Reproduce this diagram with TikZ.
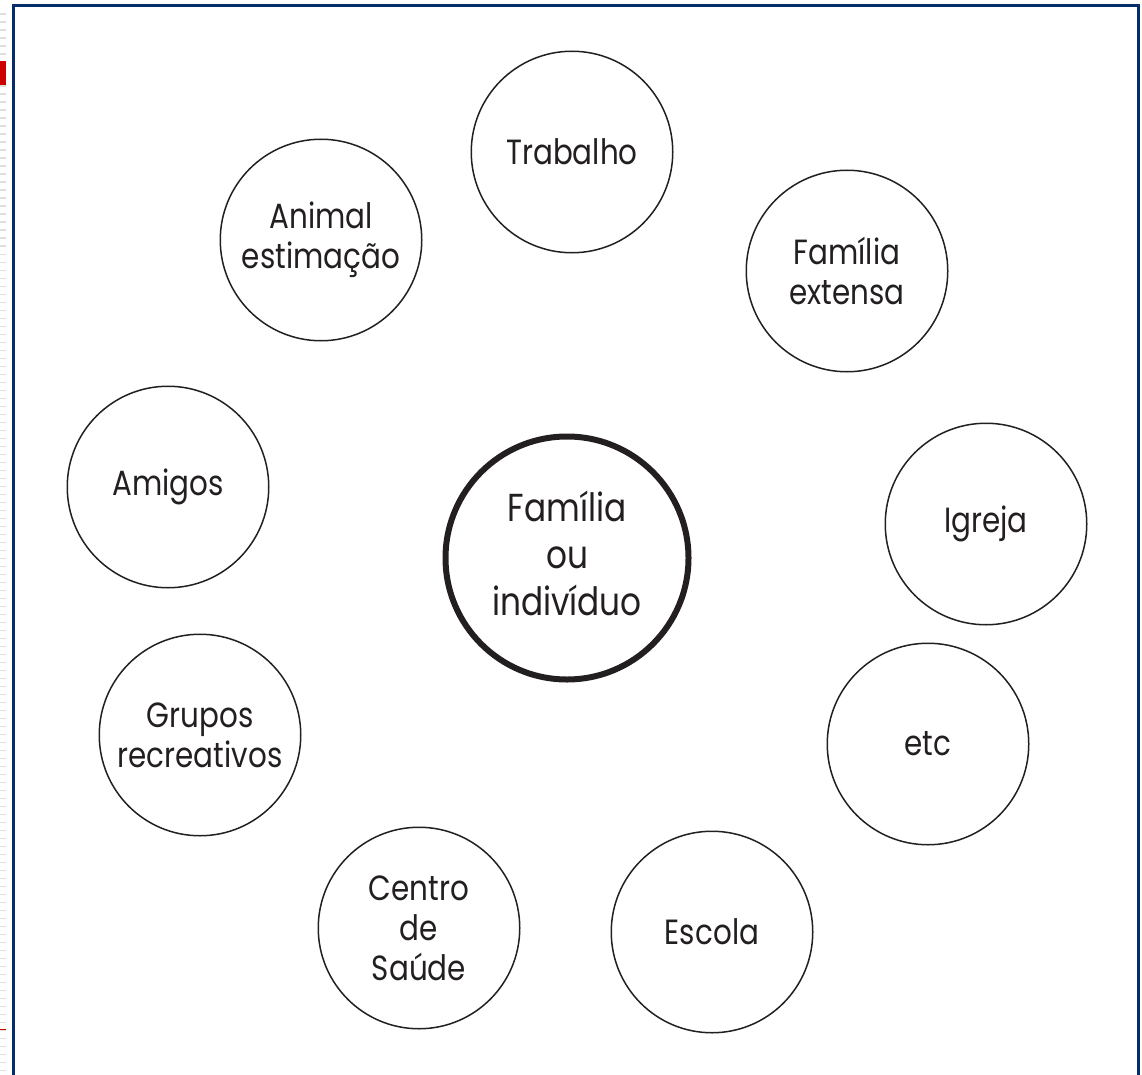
\documentclass[tikz,border=0pt]{standalone}
\usepackage{fontspec}
\newfontfamily\diagfont{Poppins}[FakeStretch=0.84]
\definecolor{navy}{RGB}{6,45,105}
\definecolor{ink}{RGB}{35,31,32}
\definecolor{tickgray}{RGB}{222,222,222}
\definecolor{marker}{RGB}{204,0,0}
\begin{document}
\begin{tikzpicture}[x=1pt,y=-1pt,
  small/.style={circle,draw=ink,line width=1.5pt,minimum size=201.5pt,inner sep=0pt,align=center,text=ink,font=\diagfont\fontsize{35}{40}\selectfont},
  big/.style={circle,draw=ink,line width=6pt,minimum size=243pt,inner sep=0pt},
  bigtext/.style={align=center,text=ink,inner sep=0pt,font=\diagfont\fontsize{39}{47}\selectfont}]
\useasboundingbox (0,0) rectangle (1142,1075);
\fill[white] (0,0) rectangle (1142,1075);
% left page edge ticks
\foreach \i in {0,...,132}{
  \pgfmathsetmacro\yy{13.5+8*\i}
  \fill[tickgray] (0,\yy) rectangle (6,\yy+1.4);
}
\fill[marker] (0,61) rectangle (6,85);
\fill[marker] (0,1028.5) rectangle (6,1029.7);
% frame
\draw[navy,line width=3pt] (13,1075) -- (13,5.5) -- (1138.5,5.5) -- (1138.5,1075);
% circles
\node[big] (fam) at (567,558) {};
\node[bigtext] (famtext) at (567,553) {Família\\ou\\indivíduo};
\node[small] (trab) at (572,152) {Trabalho};
\node[small] (anim) at (321,240) {Animal\\estimação};
\node[small] (ext) at (847,271) {Família\\extensa};
\node[small] (amig) at (168,487) {Amigos};
\node[small] (igre) at (986,524) {Igreja};
\node[small] (grup) at (200,735) {Grupos\\recreativos};
\node[small] (etc) at (928,744) {etc};
\node[small] (cent) at (419,928) {Centro\\de\\Saúde};
\node[small] (esc) at (712,932) {Escola};
\end{tikzpicture}
\end{document}
